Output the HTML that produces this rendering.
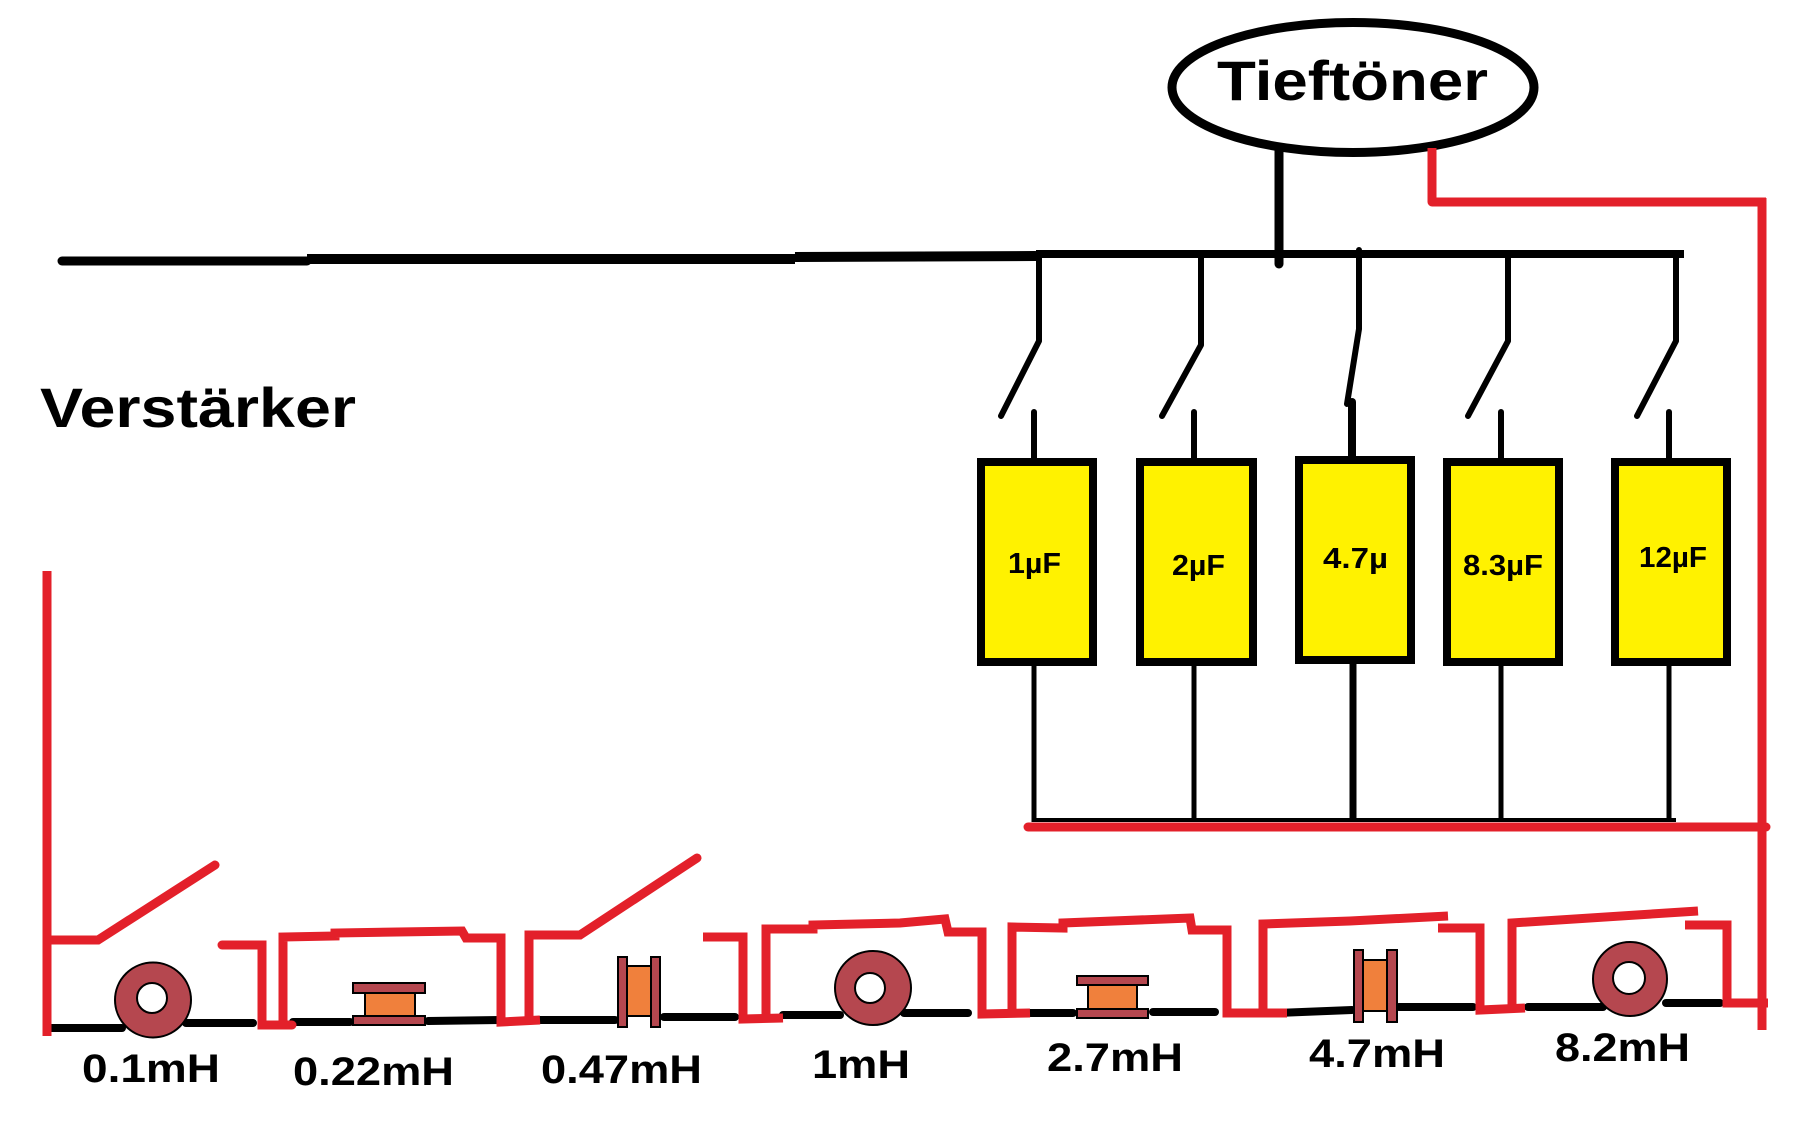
<!DOCTYPE html>
<html>
<head>
<meta charset="utf-8">
<style>
html,body{margin:0;padding:0;background:#fff;}
svg{display:block;}
text{font-family:"Liberation Sans",Arial,sans-serif;font-weight:bold;fill:#000;}
</style>
</head>
<body>
<svg width="1804" height="1122" viewBox="0 0 1804 1122" xmlns="http://www.w3.org/2000/svg">
<rect width="1804" height="1122" fill="#fff"/>

<!-- Tieftöner ellipse -->
<ellipse cx="1353" cy="87.5" rx="181" ry="65" fill="#fff" stroke="#000" stroke-width="9"/>
<text x="1217" y="100" font-size="56" textLength="271" lengthAdjust="spacingAndGlyphs">Tieftöner</text>

<!-- Verstärker -->
<text x="40" y="427" font-size="56" textLength="316" lengthAdjust="spacingAndGlyphs">Verstärker</text>

<!-- stem from ellipse -->
<line x1="1279" y1="150" x2="1279" y2="264" stroke="#000" stroke-width="9" stroke-linecap="round"/>

<!-- main black bus -->
<g stroke="#000" stroke-linecap="round" fill="none">
<line x1="62" y1="261" x2="307" y2="261" stroke-width="9"/>
<line x1="307" y1="259" x2="795" y2="259" stroke-width="10" stroke-linecap="butt"/>
<line x1="795" y1="257" x2="1036" y2="256" stroke-width="10" stroke-linecap="butt"/>
<line x1="1036" y1="254" x2="1684" y2="254" stroke-width="8" stroke-linecap="butt"/>
</g>

<!-- switches on capacitors -->
<g stroke="#000" stroke-width="6" fill="none" stroke-linecap="round" stroke-linejoin="round">
<polyline points="1039,254 1039,341 1001,416"/>
<line x1="1034" y1="412" x2="1034" y2="460"/>
<polyline points="1201,254 1201,345 1162,416"/>
<line x1="1194" y1="412" x2="1194" y2="460"/>
<polyline points="1359,250 1359,329 1347,404"/>
<line x1="1352" y1="402" x2="1352" y2="458" stroke-width="8"/>
<polyline points="1508,254 1508,341 1468,416"/>
<line x1="1501" y1="412" x2="1501" y2="460"/>
<polyline points="1676,254 1676,341 1637,416"/>
<line x1="1669" y1="412" x2="1669" y2="460"/>
</g>

<!-- capacitor lower leads -->
<g stroke="#000" stroke-width="5" fill="none">
<line x1="1034" y1="664" x2="1034" y2="822"/>
<line x1="1194" y1="664" x2="1194" y2="822"/>
<line x1="1353" y1="664" x2="1353" y2="822" stroke-width="7"/>
<line x1="1501" y1="664" x2="1501" y2="822"/>
<line x1="1669" y1="664" x2="1669" y2="822"/>
<line x1="1032" y1="820" x2="1676" y2="820" stroke-width="4"/>
</g>

<!-- capacitors -->
<g fill="#fff200" stroke="#000" stroke-width="8">
<rect x="981" y="462" width="112" height="200"/>
<rect x="1140" y="462" width="113" height="200"/>
<rect x="1299" y="460" width="112" height="200"/>
<rect x="1447" y="462" width="112" height="200"/>
<rect x="1615" y="462" width="112" height="200"/>
</g>
<text x="1008" y="573" font-size="29" textLength="53" lengthAdjust="spacingAndGlyphs">1µF</text>
<text x="1172" y="575" font-size="29" textLength="53" lengthAdjust="spacingAndGlyphs">2µF</text>
<text x="1323" y="568" font-size="29" textLength="65" lengthAdjust="spacingAndGlyphs">4.7µ</text>
<text x="1463" y="575" font-size="29" textLength="80" lengthAdjust="spacingAndGlyphs">8.3µF</text>
<text x="1639" y="567" font-size="29" textLength="68" lengthAdjust="spacingAndGlyphs">12µF</text>

<!-- red wiring top/right -->
<g stroke="#e3202a" fill="none" stroke-width="9">
<polyline points="1432,148 1432,202 1766,202" stroke-linejoin="round"/>
<line x1="1762" y1="198" x2="1762" y2="1030"/>
<line x1="1028" y1="827" x2="1766" y2="827" stroke-linecap="round"/>
</g>

<!-- bottom black wire segments -->
<g stroke="#000" stroke-width="8" stroke-linecap="round" fill="none">
<line x1="50" y1="1028" x2="122" y2="1028"/>
<line x1="186" y1="1023" x2="253" y2="1023"/>
<line x1="293" y1="1022" x2="350" y2="1022"/>
<line x1="428" y1="1021" x2="500" y2="1020"/>
<line x1="540" y1="1020" x2="615" y2="1020"/>
<line x1="664" y1="1017" x2="735" y2="1017"/>
<line x1="783" y1="1015" x2="840" y2="1015"/>
<line x1="904" y1="1013" x2="968" y2="1013"/>
<line x1="1027" y1="1013" x2="1073" y2="1013"/>
<line x1="1153" y1="1012" x2="1215" y2="1012"/>
<line x1="1277" y1="1013" x2="1352" y2="1010"/>
<line x1="1399" y1="1007" x2="1473" y2="1007"/>
<line x1="1528" y1="1007" x2="1603" y2="1007"/>
<line x1="1666" y1="1003" x2="1720" y2="1003"/>
</g>

<!-- red bottom bypass network -->
<g stroke="#e3202a" stroke-width="9" fill="none" stroke-linejoin="miter">
<line x1="47" y1="571" x2="47" y2="1036"/>
<polyline points="47,940 98,940 215,865" stroke-linecap="round"/>
<polyline points="222,945 262,945 262,1025 292,1025" stroke-linecap="round"/>
<polyline points="283,1025 283,937 335,936 335,933 462,931 466,938 501,938 501,1022 540,1020"/>
<polyline points="529,1020 529,935 580,935 697,858" stroke-linecap="round"/>
<polyline points="703,937 743,937 743,1019 783,1018"/>
<polyline points="766,1018 766,929 813,929 813,925 900,923 945,919 948,932 982,932 982,1014 1030,1013"/>
<polyline points="1012,1013 1012,927 1063,928 1063,923 1190,918 1192,930 1227,930 1227,1013 1287,1013"/>
<polyline points="1263,1013 1263,924 1350,921 1448,916"/>
<polyline points="1438,928 1480,928 1480,1010 1525,1008"/>
<polyline points="1512,1008 1512,923 1698,911"/>
<polyline points="1685,925 1727,925 1727,1003 1768,1003"/>
</g>

<!-- inductors -->
<g stroke="#000" stroke-width="2">
<!-- toroid 0.1 -->
<ellipse cx="153" cy="1000" rx="38" ry="37.5" fill="#b5474f"/>
<circle cx="152" cy="998" r="15" fill="#fff"/>
<!-- bobbin 0.22 -->
<rect x="365" y="993" width="50" height="23" fill="#f0803c"/>
<rect x="353" y="983" width="72" height="10" fill="#b5474f"/>
<rect x="353" y="1016" width="72" height="9" fill="#b5474f"/>
<!-- bobbin 0.47 vertical -->
<rect x="627" y="966" width="24" height="50" fill="#f0803c"/>
<rect x="618" y="957" width="9" height="70" fill="#b5474f"/>
<rect x="651" y="957" width="9" height="70" fill="#b5474f"/>
<!-- toroid 1mH -->
<ellipse cx="873" cy="988" rx="38" ry="37" fill="#b5474f"/>
<circle cx="870" cy="988" r="15" fill="#fff"/>
<!-- bobbin 2.7 -->
<rect x="1088" y="985" width="49" height="24" fill="#f0803c"/>
<rect x="1077" y="976" width="71" height="9" fill="#b5474f"/>
<rect x="1077" y="1009" width="71" height="9" fill="#b5474f"/>
<!-- bobbin 4.7 vertical -->
<rect x="1363" y="960" width="24" height="51" fill="#f0803c"/>
<rect x="1354" y="950" width="9" height="72" fill="#b5474f"/>
<rect x="1387" y="950" width="10" height="72" fill="#b5474f"/>
<!-- toroid 8.2 -->
<ellipse cx="1630" cy="979" rx="37" ry="37" fill="#b5474f"/>
<circle cx="1629" cy="978" r="16" fill="#fff"/>
</g>

<!-- inductor labels -->
<text x="82" y="1082" font-size="40" textLength="138" lengthAdjust="spacingAndGlyphs">0.1mH</text>
<text x="293" y="1085" font-size="40" textLength="161" lengthAdjust="spacingAndGlyphs">0.22mH</text>
<text x="541" y="1083" font-size="40" textLength="161" lengthAdjust="spacingAndGlyphs">0.47mH</text>
<text x="812" y="1078" font-size="40" textLength="98" lengthAdjust="spacingAndGlyphs">1mH</text>
<text x="1047" y="1071" font-size="40" textLength="136" lengthAdjust="spacingAndGlyphs">2.7mH</text>
<text x="1309" y="1067" font-size="40" textLength="136" lengthAdjust="spacingAndGlyphs">4.7mH</text>
<text x="1555" y="1061" font-size="40" textLength="135" lengthAdjust="spacingAndGlyphs">8.2mH</text>
</svg>
</body>
</html>
